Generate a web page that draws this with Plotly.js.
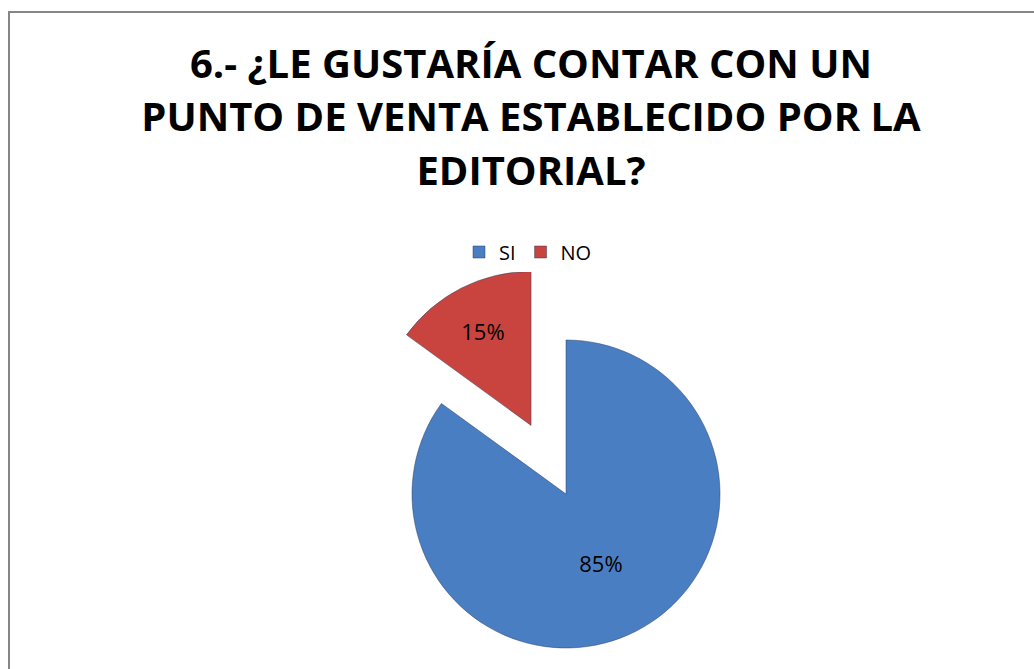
<!DOCTYPE html>
<html>
<head>
<meta charset="utf-8">
<script src="https://cdn.plot.ly/plotly-3.0.1.min.js"></script>
<style>
  html, body { margin: 0; padding: 0; background: #ffffff; overflow: hidden; }
  #wrap { width: 1034px; height: 669px; overflow: hidden; position: relative; }
  #chart { width: 1034px; height: 760px; }
</style>
</head>
<body>
<div id="wrap"><div id="chart"></div></div>
<script>
const categories = ["SI", "NO"];
const values = [85, 15];
const sliceColors = ["#4a7ec3", "#c9443f"];
const pulls = [0, 0.5];
const titleLines = ["6.- ¿LE GUSTARÍA CONTAR CON UN", "PUNTO DE VENTA ESTABLECIDO POR LA", "EDITORIAL?"];

const W = 1034, H = 760;
// pie box in pixels (center 566,494 ; radius 154 ; pull 0.5)
const cx = 566, cy = 494, r = 154, half = r * 1.5;

const trace = {
  type: "pie",
  labels: categories,
  values: values,
  pull: pulls,
  sort: false,
  direction: "clockwise",
  rotation: 0,
  marker: { colors: sliceColors, line: { color: "rgba(40,60,90,0.6)", width: 0.8 } },
  textinfo: "percent",
  texttemplate: "%{percent:.0%}",
  textposition: "inside",
  insidetextorientation: "horizontal",
  textfont: { family: "Open Sans, sans-serif", size: 22, color: "#000000" },
  hoverinfo: "label+percent",
  domain: {
    x: [(cx - half) / W, (cx + half) / W],
    y: [(H - (cy + half)) / H, (H - (cy - half)) / H]
  }
};

const layout = {
  width: W,
  height: H,
  margin: { l: 0, r: 0, t: 0, b: 0 },
  paper_bgcolor: "#ffffff",
  title: {
    text: titleLines.map(t => '<span style="font-size:40px">' + t + '</span>').join("<br>"),
    font: { family: "Open Sans, sans-serif", size: 41, color: "#000000", weight: 700 },
    x: 531 / W,
    xanchor: "center",
    xref: "paper",
    yref: "container",
    y: 1 - 78 / H,
    yanchor: "top"
  },
  showlegend: true,
  legend: {
    orientation: "h",
    x: 528 / W,
    xanchor: "center",
    y: (H - 252) / H,
    yanchor: "middle",
    font: { family: "Open Sans, sans-serif", size: 20, color: "#000000" },
    itemwidth: 30,
    traceorder: "normal"
  },
  shapes: [{
    type: "rect", xref: "paper", yref: "paper",
    x0: 9 / W, x1: 1.05, y0: -0.2, y1: (H - 12) / H,
    line: { color: "#868686", width: 2 }, fillcolor: "rgba(0,0,0,0)", layer: "below"
  }]
};

Plotly.newPlot("chart", [trace], layout, { displayModeBar: false, staticPlot: true });
</script>
</body>
</html>
